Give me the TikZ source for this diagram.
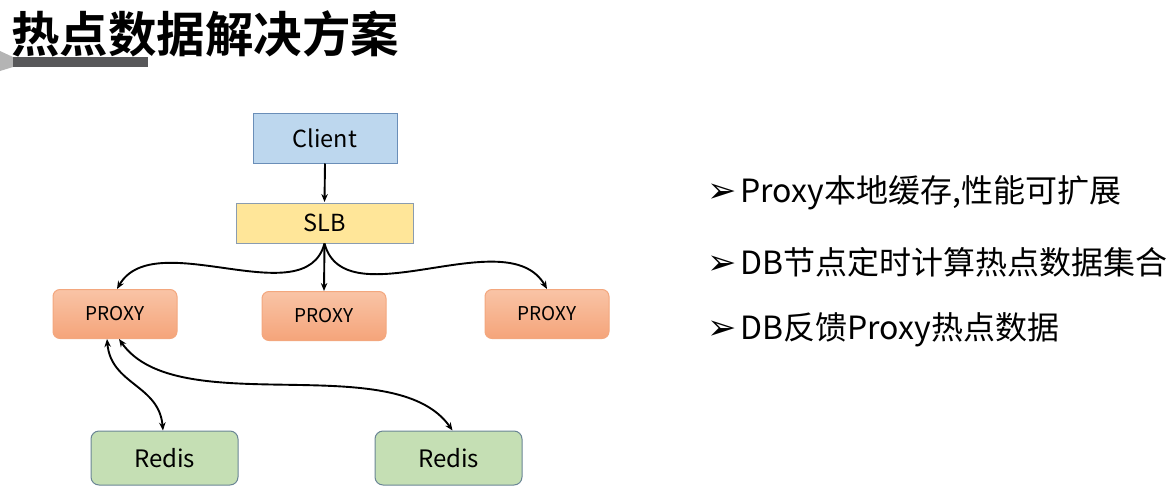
\documentclass[tikz,border=0pt]{standalone}
\usepackage{fontspec}
\usetikzlibrary{arrows.meta}
\newfontfamily\cjk{Noto Sans CJK SC}
\newfontfamily\cjkb{Noto Sans CJK SC Bold}
\newfontfamily\dv{DejaVu Sans}
\definecolor{clientfill}{HTML}{BDD7EE}
\definecolor{clientdraw}{HTML}{6A8EB8}
\definecolor{slbfill}{HTML}{FFE699}
\definecolor{slbdraw}{HTML}{8A9CB0}
\definecolor{proxytop}{HTML}{F9C4A6}
\definecolor{proxybot}{HTML}{F5A47A}
\definecolor{proxydraw}{HTML}{F3A77E}
\definecolor{redisfill}{HTML}{C5DFB4}
\definecolor{redisdraw}{HTML}{6A8595}
\definecolor{bargray}{HTML}{58585A}
\definecolor{lightgray2}{HTML}{B4B4B4}
\newcommand{\bul}{{\dv\fontsize{35}{35}\selectfont\raisebox{0pt}{➢}}}
\tikzset{
  sqbox/.style={draw, line width=1pt, inner sep=0pt, font=\cjk\fontsize{23.5}{26}\selectfont},
  proxybox/.style={draw=proxydraw, line width=1pt, rounded corners=7pt, top color=proxytop, bottom color=proxybot, minimum width=124pt, minimum height=49pt, inner sep=0pt, font=\cjk\fontsize{19}{21}\selectfont},
  redisbox/.style={draw=redisdraw, fill=redisfill, line width=1pt, rounded corners=8pt, minimum width=147pt, minimum height=54pt, inner sep=0pt, font=\cjk\fontsize{24}{26}\selectfont},
  conn/.style={line width=1.9pt, -{Stealth[length=8pt,width=6.5pt]}},
  dconn/.style={line width=1.9pt, {Stealth[length=8pt,width=6.5pt]}-{Stealth[length=8pt,width=6.5pt]}},
  bullet/.style={anchor=west, inner sep=0pt, font=\cjk\fontsize{32}{36}\selectfont}
}
\begin{document}
\begin{tikzpicture}[x=1pt,y=-1pt]
\useasboundingbox (0,0) rectangle (1173,498);
% title
\node[anchor=west, inner sep=0pt, font=\cjkb\fontsize{48.5}{52}\selectfont] (title) at (11,34) {热点数据解决方案};
\fill[lightgray2] (0,51) -- (13,57) -- (13,67) -- (0,71) -- cycle;
\fill[bargray] (13,57) rectangle (148,67);
% boxes
\node[sqbox, draw=clientdraw, fill=clientfill, minimum width=144pt, minimum height=50pt] (client) at (325,138) {Client};
\node[sqbox, draw=slbdraw, fill=slbfill, minimum width=177pt, minimum height=40pt] (slb) at (324.5,223) {SLB};
\node[proxybox] (p1) at (115,314) {PROXY};
\node[proxybox] (p2) at (324,316) {PROXY};
\node[proxybox] (p3) at (547,314) {PROXY};
\node[redisbox] (r1) at (164.5,458) {Redis};
\node[redisbox] (r2) at (448.5,458) {Redis};
% connectors
\draw[conn] (client.south) -- (slb.south |- 0,202);
\draw[conn] (slb.south) -- (p2.north);
\draw[conn] (slb.south) to[out=-105, in=60, looseness=0.9] ([xshift=2pt]p1.north);
\draw[conn] (slb.south) to[out=-75, in=120, looseness=0.9] (p3.north);
\draw[dconn] ([xshift=-8pt]p1.south) to[out=-85, in=95, looseness=1.1] ([xshift=-1.5pt]r1.north);
\draw[dconn] ([xshift=4pt]p1.south) to[out=-55, in=125, looseness=0.75] ([xshift=4pt]r2.north);
% bullets
\node[bullet] (b1) at (707,193) {\bul\hspace{4pt}Proxy本地缓存,性能可扩展};
\node[bullet] (b2) at (707,262) {\bul\hspace{4pt}DB节点定时计算热点数据集合};
\node[bullet] (b3) at (707,330) {\bul\hspace{4pt}DB反馈Proxy热点数据};
\end{tikzpicture}
\end{document}
